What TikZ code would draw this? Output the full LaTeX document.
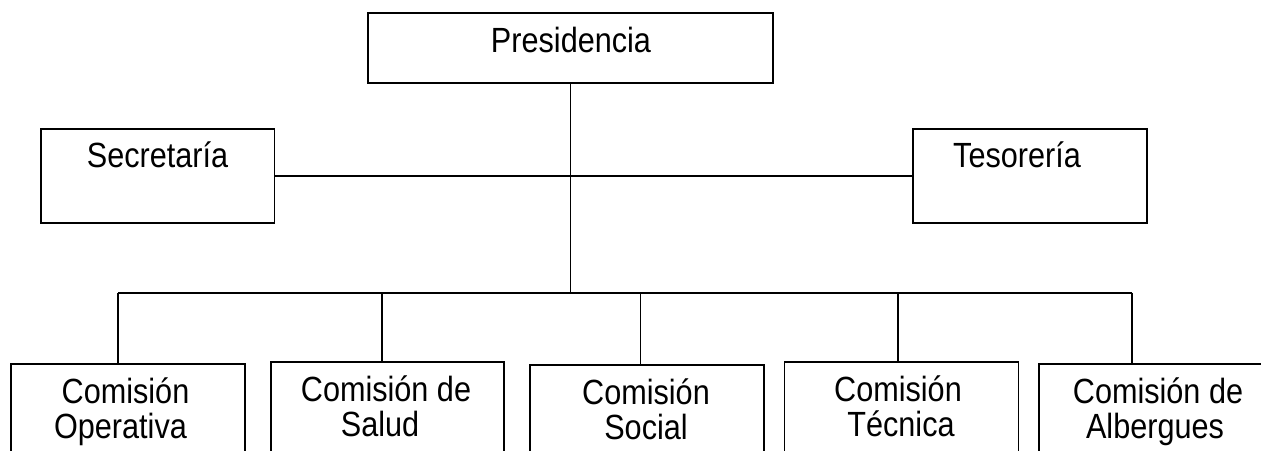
\documentclass[tikz,border=0pt]{standalone}
\usepackage{fontspec}
\setmainfont{Liberation Sans}[FakeStretch=0.875]
\begin{document}
\begin{tikzpicture}[x=1pt,y=-1pt,
  box/.style={draw=black,line width=1.8pt,inner sep=0pt,fill=white},
  txt/.style={inner sep=0pt,anchor=base,font=\fontsize{35}{35}\selectfont},
  conn/.style={draw=black,line width=1.8pt}]
\useasboundingbox (0,0) rectangle (1261,450);
\clip (0,0) rectangle (1261,450);
% top boxes
\node[box,minimum width=405pt,minimum height=70pt] (pres) at (570.5,48) {};
\node[box,minimum width=233.5pt,minimum height=94pt] (sec) at (157.75,176) {};
\node[box,minimum width=234pt,minimum height=94pt] (tes) at (1030,176) {};
\node[txt] (presT) at (571,52) {Presidencia};
\node[txt] (secT) at (157.5,167) {Secretaría};
\node[txt] (tesT) at (1017,167) {Tesorería};
% bottom boxes
\node[box,minimum width=234pt,minimum height=120pt,anchor=north west] (b1) at (10,363) {};
\node[box,minimum width=233pt,minimum height=120pt,anchor=north west] (b2) at (270,361) {};
\node[box,minimum width=234pt,minimum height=120pt,anchor=north west] (b3) at (529,364) {};
\node[box,minimum width=234pt,minimum height=120pt,anchor=north west] (b4) at (783.5,361) {};
\node[box,minimum width=237pt,minimum height=120pt,anchor=north west] (b5) at (1038,363) {};
\node[txt] (b1a) at (125.5,403) {Comisión};
\node[txt] (b1b) at (120.5,438) {Operativa};
\node[txt] (b2a) at (386,401) {Comisión de};
\node[txt] (b2b) at (380,436) {Salud};
\node[txt] (b3a) at (646,404) {Comisión};
\node[txt] (b3b) at (646,439) {Social};
\node[txt] (b4a) at (898,401) {Comisión};
\node[txt] (b4b) at (901,436) {Técnica};
\node[txt] (b5a) at (1158,403) {Comisión de};
\node[txt] (b5b) at (1155,438) {Albergues};
% connectors
\coordinate (bus) at (570.5,292.7);
\coordinate (t1) at (118,292.7);
\coordinate (t2) at (381.6,292.7);
\coordinate (t3) at (640.5,292.7);
\coordinate (t4) at (898,292.7);
\coordinate (t5) at (1132,292.7);
\draw[conn] (pres.south) -- (bus);
\draw[conn] (sec.east) -- (tes.west);
\draw[conn] (t1) -- (t5);
\draw[conn] (t1) -- (t1 |- b1.north);
\draw[conn] (t2) -- (t2 |- b2.north);
\draw[conn] (t3) -- (t3 |- b3.north);
\draw[conn] (t4) -- (t4 |- b4.north);
\draw[conn] (t5) -- (t5 |- b5.north);
\end{tikzpicture}
\end{document}
